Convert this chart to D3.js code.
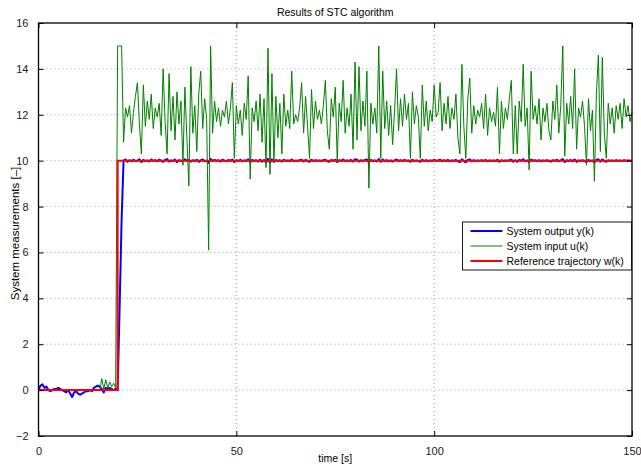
<!DOCTYPE html>
<html>
<head>
<meta charset="utf-8">
<script src="https://cdn.jsdelivr.net/npm/d3@7"></script>
<style>
  body { margin: 0; background: #fff; }
  svg { display: block; font-family: "Liberation Sans", Arial, Helvetica, sans-serif; }
  .grid line { stroke: #8c8c8c; stroke-width: 0.8; stroke-dasharray: 1, 3; }
  .tickLabel { font-size: 11px; fill: #1a1a1a; }
</style>
</head>
<body>
<div id="chart"></div>
<script>
// Sampling period of the logged signals [s].
const sampleTime = 0.5

// Axis ticks.
const xTicks = [0, 50, 100, 150]
const yTicks = [-2, 0, 2, 4, 6, 8, 10, 12, 14, 16]

// System input u(k), one value per sample from t = 0 to t = 150 (rows of 10 s).
const inputU = [
  0, 0, 0, 0, 0, 0, 0, 0, 0, 0, 0, 0, 0, 0, 0, 0, 0, 0, 0, 0,
  0, 0, 0, 0, 0, 0, 0, 0, 0, 0, 0, 0, 0.5, 0.05, 0.45, 0.1, 0.35, 0.15, 0.3, 0.1,
  15, 15, 15, 10.8, 12.3, 11.9, 12.4, 11.2, 12.1, 12.8, 13.4, 11.6, 10.3, 13.3, 11.5, 12.6, 11.8, 12.9, 11.4, 12.3,
  11.9, 12.5, 11.1, 14.0, 11.7, 10.3, 13.8, 11.3, 12.8, 10.9, 13.0, 11.6, 12.6, 9.8, 13.2, 11.0, 8.9, 14.1, 11.2, 12.4,
  10.4, 12.9, 13.9, 11.4, 12.7, 11.8, 6.1, 15.0, 11.2, 12.6, 11.7, 12.3, 11.5, 12.2, 11.9, 12.6, 11.6, 12.3, 13.4, 10.1,
  12.4, 11.6, 12.2, 11.1, 12.5, 11.8, 13.7, 9.2, 12.3, 11.7, 12.6, 11.3, 12.9, 10.8, 12.7, 9.7, 14.9, 9.4, 13.8, 9.9,
  12.8, 11.0, 12.5, 10.3, 12.9, 11.5, 12.2, 11.4, 13.9, 11.6, 12.0, 11.7, 12.3, 13.4, 11.2, 12.8, 11.5, 10.1, 13.1, 11.4,
  12.6, 11.8, 12.2, 11.6, 12.4, 13.5, 11.3, 10.5, 12.7, 11.9, 13.2, 10.0, 12.5, 11.7, 13.5, 11.2, 12.3, 11.5, 12.9, 10.5,
  14.3, 10.9, 14.1, 11.3, 12.6, 11.5, 13.9, 8.8, 12.5, 11.6, 12.3, 11.2, 15.0, 10.1, 13.9, 11.4, 12.6, 11.1, 12.4, 10.7,
  12.2, 14.0, 11.3, 12.7, 11.5, 12.9, 11.8, 12.5, 10.1, 13.0, 11.6, 12.4, 11.9, 10.1, 13.3, 11.5, 12.6, 11.3, 12.2, 11.7,
  13.3, 11.9, 12.1, 13.4, 11.3, 12.5, 11.6, 12.8, 11.4, 12.3, 11.8, 12.9, 11.0, 10.3, 14.2, 11.5, 10.1, 12.7, 13.6, 11.2,
  12.4, 11.6, 12.2, 11.9, 12.5, 11.4, 12.9, 11.1, 12.3, 11.7, 12.1, 11.5, 13.2, 10.3, 12.6, 11.4, 12.3, 11.8, 12.7, 13.5,
  10.3, 12.4, 10.3, 12.6, 11.7, 14.2, 11.5, 12.3, 9.6, 13.9, 11.8, 12.4, 11.6, 12.7, 10.9, 12.3, 11.7, 12.5, 11.3, 10.9,
  12.6, 11.8, 13.3, 11.2, 12.4, 15.0, 10.2, 12.5, 11.6, 12.8, 11.4, 14.0, 10.5, 12.3, 11.9, 12.6, 11.5, 9.8, 12.7, 11.3,
  12.2, 9.1, 12.9, 14.6, 10.4, 14.5, 11.2, 10.1, 12.5, 11.6, 12.3, 11.2, 12.4, 11.8, 12.5, 11.4, 12.7, 11.9, 12.4, 11.7,
  12.1
]

// System output y(k), same sampling.
const outputY = [
  0, 0.2, 0.25, 0.1, 0.15, 0.0, -0.05, 0.0, 0.05, 0.05, 0.1, 0.05, 0.0, -0.05, -0.1, 0.0, -0.15, -0.3, -0.1, -0.05,
  -0.15, -0.2, -0.15, -0.1, -0.05, -0.05, 0.0, -0.05, 0.1, 0.15, 0.2, 0.15, 0.05, -0.1, 0.1, 0.05, 0.1, 0.05, 0.0, 0.05,
  0.0, 3.6, 7.4, 10.0, 10.05, 9.95, 10.02, 9.97, 10.04, 9.98, 10.0, 10.06, 9.94, 10.03, 9.98, 10.01, 9.96, 10.05, 9.99, 10.02,
  9.97, 10.04, 10.0, 9.95, 10.03, 10.07, 9.96, 10.01, 9.98, 10.05, 9.93, 10.02, 10.0, 9.97, 10.06, 9.99, 10.03, 9.96, 10.02, 9.98,
  10.04, 9.95, 10.01, 10.05, 9.97, 10.0, 9.9, 10.08, 9.98, 10.03, 9.99, 10.02, 9.96, 10.04, 10.0, 9.97, 10.03, 9.99, 10.05, 9.94,
  10.02, 9.98, 10.04, 9.97, 10.01, 9.99, 10.06, 9.93, 10.03, 9.98, 10.02, 9.96, 10.04, 9.95, 10.03, 9.92, 10.08, 9.91, 10.06, 9.95,
  10.03, 9.98, 10.02, 9.96, 10.04, 9.99, 10.01, 9.98, 10.05, 9.97, 10.0, 9.99, 10.02, 10.04, 9.97, 10.03, 9.98, 9.95, 10.04, 9.98,
  10.02, 9.99, 10.01, 9.98, 10.02, 10.04, 9.97, 9.95, 10.03, 9.99, 10.04, 9.94, 10.02, 9.98, 10.05, 9.97, 10.01, 9.98, 10.03, 9.96,
  10.06, 10.04, 9.96, 10.02, 9.98, 10.03, 10.05, 9.92, 10.03, 9.98, 10.01, 9.97, 10.07, 9.95, 10.05, 9.98, 10.02, 9.97, 10.01, 9.96,
  10.01, 10.05, 9.98, 10.02, 9.98, 10.03, 9.99, 10.01, 9.95, 10.04, 9.98, 10.01, 9.99, 9.95, 10.04, 9.98, 10.02, 9.97, 10.01, 9.99,
  10.04, 9.99, 10.01, 10.04, 9.97, 10.02, 9.98, 10.03, 9.97, 10.01, 9.99, 10.03, 9.97, 9.94, 10.06, 9.98, 9.93, 10.03, 10.05, 9.97,
  10.02, 9.98, 10.01, 9.99, 10.02, 9.98, 10.03, 9.97, 10.01, 9.99, 10.01, 9.98, 10.04, 9.95, 10.02, 9.98, 10.01, 9.99, 10.02, 10.04,
  9.95, 10.02, 9.95, 10.03, 9.99, 10.06, 9.97, 10.01, 9.93, 10.05, 9.99, 10.02, 9.98, 10.02, 9.97, 10.01, 9.99, 10.02, 9.98, 9.96,
  10.02, 9.99, 10.04, 9.97, 10.01, 10.07, 9.94, 10.02, 9.98, 10.03, 9.97, 10.05, 9.95, 10.01, 9.99, 10.02, 9.98, 9.94, 10.03, 9.98,
  10.01, 9.92, 10.03, 10.06, 9.96, 10.05, 9.98, 9.95, 10.02, 9.99, 10.01, 9.98, 10.02, 9.99, 10.01, 9.98, 10.02, 9.99, 10.01, 9.99,
  10.0
]

// Reference trajectory w(k): a step at t = 20 s.
const refTimes = [0, 20, 20, 150]
const refValues = [0, 0, 10, 10]

// Legend entries (drawn in the order of the legend).
const seriesNames = ['System output y(k)', 'System input u(k)', 'Reference trajectory w(k)']
const seriesColors = ['#0000ff', '#008000', '#ff0000']
const seriesWidths = [2, 1, 2]

// Frame.
const width = 641
const height = 464
const margin = {top: 23, right: 9, bottom: 28, left: 38.5}
const plotW = width - margin.left - margin.right
const plotH = height - margin.top - margin.bottom

const svg = d3.select('#chart')
  .append('svg')
    .attr('width', width)
    .attr('height', height)

const g = svg.append('g')
  .attr('transform', 'translate(' + margin.left + ',' + margin.top + ')')

const x = d3.scaleLinear().domain([0, 150]).range([0, plotW])
const y = d3.scaleLinear().domain([-2, 16]).range([plotH, 0])

// Dotted grid (skip the frame edges).
const grid = g.append('g').attr('class', 'grid')
grid.selectAll('.gx')
  .data(xTicks.filter(d => d > 0 && d < 150))
  .enter().append('line')
    .attr('x1', d => x(d)).attr('x2', d => x(d))
    .attr('y1', 0).attr('y2', plotH)
grid.selectAll('.gy')
  .data(yTicks.filter(d => d > -2 && d < 16))
  .enter().append('line')
    .attr('x1', 0).attr('x2', plotW)
    .attr('y1', d => y(d)).attr('y2', d => y(d))

// Series lines.
const line = d3.line()
  .x(d => x(d[0]))
  .y(d => y(d[1]))

const outputPts = outputY.map((v, i) => [i * sampleTime, v])
const inputPts = inputU.map((v, i) => [i * sampleTime, v])
const refPts = refTimes.map((t, i) => [t, refValues[i]])

g.append('path')
  .datum(outputPts)
  .attr('d', line)
  .attr('fill', 'none')
  .attr('stroke', seriesColors[0])
  .attr('stroke-width', seriesWidths[0])
  .attr('stroke-linejoin', 'round')

g.append('path')
  .datum(inputPts)
  .attr('d', line)
  .attr('fill', 'none')
  .attr('stroke', seriesColors[1])
  .attr('stroke-width', seriesWidths[1])
  .attr('stroke-linejoin', 'round')

g.append('path')
  .datum(refPts)
  .attr('d', line)
  .attr('fill', 'none')
  .attr('stroke', seriesColors[2])
  .attr('stroke-width', seriesWidths[2])

// Axes with inward ticks on all four sides (MATLAB box).
const tickLen = 5
const axisStyle = sel => {
  sel.select('.domain').remove()
  sel.selectAll('.tick line').attr('stroke', '#000').attr('stroke-width', 1)
  sel.selectAll('.tick text').attr('class', 'tickLabel')
}

g.append('g')
  .attr('transform', 'translate(0,' + plotH + ')')
  .call(d3.axisBottom(x).tickValues(xTicks).tickSizeInner(-tickLen).tickSizeOuter(0).tickPadding(11))
  .call(axisStyle)

g.append('g')
  .call(d3.axisTop(x).tickValues(xTicks).tickSizeInner(-tickLen).tickSizeOuter(0).tickFormat(''))
  .call(axisStyle)

g.append('g')
  .call(d3.axisLeft(y).tickValues(yTicks).tickSizeInner(-tickLen).tickSizeOuter(0).tickPadding(10))
  .call(axisStyle)

g.append('g')
  .attr('transform', 'translate(' + plotW + ',0)')
  .call(d3.axisRight(y).tickValues(yTicks).tickSizeInner(-tickLen).tickSizeOuter(0).tickFormat(''))
  .call(axisStyle)

// Box.
g.append('rect')
  .attr('width', plotW)
  .attr('height', plotH)
  .attr('fill', 'none')
  .attr('stroke', '#000')
  .attr('stroke-width', 1.3)

// Title and axis labels.
svg.append('text')
  .attr('x', margin.left + plotW / 2)
  .attr('y', 16)
  .attr('text-anchor', 'middle')
  .style('font-size', '10.5px')
  .text('Results of STC algorithm')

svg.append('text')
  .attr('x', margin.left + plotW / 2)
  .attr('y', 462)
  .attr('text-anchor', 'middle')
  .style('font-size', '10.5px')
  .text('time [s]')

svg.append('text')
  .attr('transform', 'translate(19,' + (margin.top + plotH / 2 + 4) + ') rotate(-90)')
  .attr('text-anchor', 'middle')
  .style('font-size', '11.5px')
  .text('System measurements [\u2013]')

// Legend.
const legend = svg.append('g').attr('transform', 'translate(462.5,222)')
legend.append('rect')
  .attr('width', 169)
  .attr('height', 48)
  .attr('fill', '#fff')
  .attr('stroke', '#000')
  .attr('stroke-width', 0.9)

const rows = legend.selectAll('.row')
  .data(seriesNames)
  .enter().append('g')
    .attr('transform', (d, i) => 'translate(0,' + (9 + i * 15) + ')')
rows.append('line')
  .attr('x1', 8).attr('x2', 40)
  .attr('stroke', (d, i) => seriesColors[i])
  .attr('stroke-width', (d, i) => seriesWidths[i] === 1 ? 1.2 : 2)
rows.append('text')
  .attr('x', 44)
  .attr('y', 4)
  .style('font-size', '10.5px')
  .text(d => d)
</script>
</body>
</html>
